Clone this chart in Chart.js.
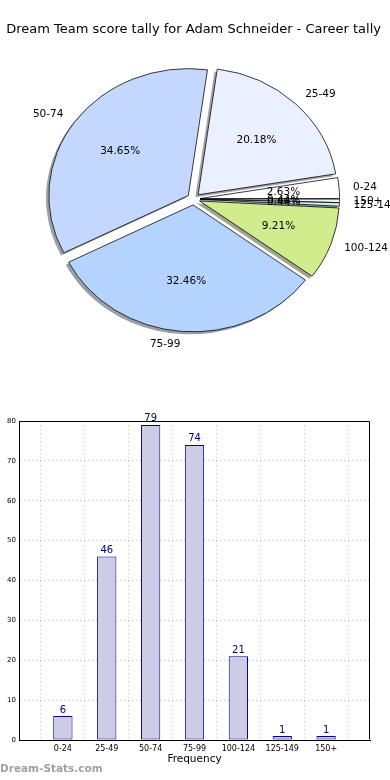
<!DOCTYPE html>
<html><head><meta charset="utf-8">
<script src="https://cdn.jsdelivr.net/npm/chart.js@4"></script>
<style>
html,body{margin:0;padding:0;background:#fff;}
#wrap{position:relative;width:390px;height:780px;overflow:hidden;}
#pie{position:absolute;left:0;top:0;}
#bar{position:absolute;left:0;top:390px;}
#wm{position:absolute;left:0;top:762px;font:bold 10.5px "DejaVu Sans";color:#a0a0a0;white-space:nowrap;}
</style></head><body>
<div id="wrap">
<canvas id="pie" width="390" height="390"></canvas>
<canvas id="bar" width="390" height="390"></canvas>
<div id="wm">Dream-Stats.com</div>
</div>
<script>
const titleText = 'Dream Team score tally for Adam Schneider - Career tally';
const categories = ['0-24','25-49','50-74','75-99','100-124','125-149','150+'];
const counts = [6, 46, 79, 74, 21, 1, 1];
const sliceColors = ['#ffffff','#eaf0ff','#c4d8ff','#b4d4ff','#d0ec8c','#c8f0f4','#f4f4f4'];
const yTicks = [0, 10, 20, 30, 40, 50, 60, 70, 80];
const xAxisTitle = 'Frequency';
const watermark = 'Dream-Stats.com';

const total = counts.reduce((a, b) => a + b, 0);
// pie drawn clockwise in Chart.js, so reverse to mimic counter-clockwise order
const pieLabels = categories.slice().reverse();
const pieValues = counts.slice().reverse();
const pieColors = sliceColors.slice().reverse();

const SY = 0.91;       // vertical squash of the pie (elliptical look)
const EXPLODE = 6.5;   // explode distance px
const SHX = -2.8, SHY = 2.5; // shadow offset
const R = 139.5;

function shadowColor(hex) {
  const n = parseInt(hex.slice(1), 16);
  const r = (n >> 16) & 255, g = (n >> 8) & 255, b = n & 255;
  return `rgba(${Math.round(r*0.3)},${Math.round(g*0.3)},${Math.round(b*0.3)},0.5)`;
}

const pieDraw = {
  id: 'pieDraw',
  beforeDatasetDraw(chart, args) {
    const ctx = chart.ctx;
    const arcs = args.meta.data;
    const cx = arcs[0].x, cy = arcs[0].y;
    ctx.save();
    ctx.translate(cx, cy); ctx.scale(1, SY); ctx.translate(-cx, -cy);
    arcs.forEach((a) => {
      const mid = (a.startAngle + a.endAngle) / 2;
      ctx.save();
      ctx.translate(Math.cos(mid) * EXPLODE + SHX, Math.sin(mid) * EXPLODE + SHY / SY);
      ctx.beginPath();
      ctx.moveTo(a.x, a.y);
      ctx.arc(a.x, a.y, a.outerRadius, a.startAngle, a.endAngle);
      ctx.closePath();
      ctx.fillStyle = shadowColor(a.options.backgroundColor);
      ctx.fill();
      ctx.restore();
    });
    arcs.forEach((a) => {
      const mid = (a.startAngle + a.endAngle) / 2;
      ctx.save();
      ctx.translate(Math.cos(mid) * EXPLODE, Math.sin(mid) * EXPLODE);
      a.draw(ctx);
      ctx.restore();
    });
    ctx.restore();
    // labels
    ctx.save();
    ctx.font = '10.5px "DejaVu Sans"';
    ctx.fillStyle = '#000';
    ctx.textBaseline = 'middle';
    arcs.forEach((a, i) => {
      const mid = (a.startAngle + a.endAngle) / 2;
      const r = a.outerRadius;
      const lx = cx + Math.cos(mid) * (EXPLODE + 1.1 * r);
      const ly = cy + Math.sin(mid) * (EXPLODE + 1.1 * r) * SY;
      ctx.textAlign = lx > cx ? 'left' : 'right';
      ctx.fillText(pieLabels[i], lx, ly);
      const px = cx + Math.cos(mid) * (EXPLODE + 0.6 * r);
      const py = cy + Math.sin(mid) * (EXPLODE + 0.6 * r) * SY;
      ctx.textAlign = 'center';
      ctx.fillText((pieValues[i] / total * 100).toFixed(2) + '%', px, py);
    });
    ctx.restore();
    return false;
  }
};

new Chart(document.getElementById('pie'), {
  type: 'pie',
  data: {
    labels: pieLabels,
    datasets: [{
      data: pieValues,
      backgroundColor: pieColors,
      borderColor: '#000',
      borderWidth: 0.8,
      rotation: 90,
      radius: R
    }]
  },
  options: {
    responsive: false,
    animation: false,
    layout: { padding: { top: 0, bottom: 29.6, left: 0, right: 2.8 } },
    plugins: {
      legend: { display: false },
      tooltip: { enabled: false },
      title: {
        display: true, text: titleText, color: '#000',
        font: { family: 'DejaVu Sans', size: 13, weight: 'normal' },
        padding: { top: 22, bottom: 0 }
      }
    }
  },
  plugins: [pieDraw]
});

const barExtras = {
  id: 'barExtras',
  afterDraw(chart) {
    const ctx = chart.ctx;
    const ca = chart.chartArea;
    ctx.save();
    ctx.strokeStyle = '#000';
    ctx.lineWidth = 1;
    const l = Math.round(ca.left) + 0.5, r = Math.round(ca.right) - 0.5;
    const t = Math.round(ca.top) + 0.5, b = Math.round(ca.bottom) - 0.5;
    ctx.beginPath();
    ctx.moveTo(l, t); ctx.lineTo(r, t); ctx.lineTo(r, b);
    ctx.stroke();
    const meta = chart.getDatasetMeta(0);
    ctx.font = '10px "DejaVu Sans"';
    ctx.fillStyle = '#000080';
    ctx.textAlign = 'center';
    ctx.textBaseline = 'alphabetic';
    meta.data.forEach((bar, i) => {
      ctx.fillText(String(counts[i]), bar.x, bar.y - 3.5);
    });
    ctx.restore();
  }
};

new Chart(document.getElementById('bar'), {
  type: 'bar',
  data: {
    datasets: [{
      data: counts.map((v, i) => ({ x: i, y: v })),
      backgroundColor: '#ccccE6',
      borderColor: '#000088',
      borderWidth: 1,
      borderSkipped: false,
      barPercentage: 0.44,
      categoryPercentage: 1
    }]
  },
  options: {
    responsive: false,
    animation: false,
    layout: { padding: { left: 0, right: 20, top: 31, bottom: 0 } },
    plugins: { legend: { display: false }, tooltip: { enabled: false } },
    scales: {
      x: {
        type: 'linear', min: -1, max: 7, offset: false, z: 1,
        afterBuildTicks: s => { s.ticks = categories.map((c, i) => ({ value: i })); },
        ticks: {
          autoSkip: false, maxRotation: 0, padding: 4, color: '#000',
          font: { family: 'DejaVu Sans', size: 8 },
          callback: v => categories[v] ?? ''
        },
        grid: { color: '#c4c4c4', lineWidth: 1, drawTicks: false },
        border: { display: true, color: '#000', width: 1, dash: [1, 3] },
        title: {
          display: true, text: xAxisTitle, color: '#000',
          font: { family: 'DejaVu Sans', size: 10.5 },
          padding: { top: 0, bottom: 14 }
        },
        afterFit: s => { s.height = 40; }
      },
      y: {
        min: 0, max: 80, z: 1,
        afterBuildTicks: s => { s.ticks = yTicks.map(v => ({ value: v })); },
        ticks: { padding: 3, color: '#000', font: { family: 'DejaVu Sans', size: 7 } },
        grid: { color: '#c4c4c4', lineWidth: 1, drawTicks: false },
        border: { display: true, color: '#000', width: 1, dash: [1, 3] },
        afterFit: s => { s.width = 19; }
      }
    }
  },
  plugins: [barExtras]
});
document.getElementById('wm').textContent = watermark;
</script>
</body></html>
